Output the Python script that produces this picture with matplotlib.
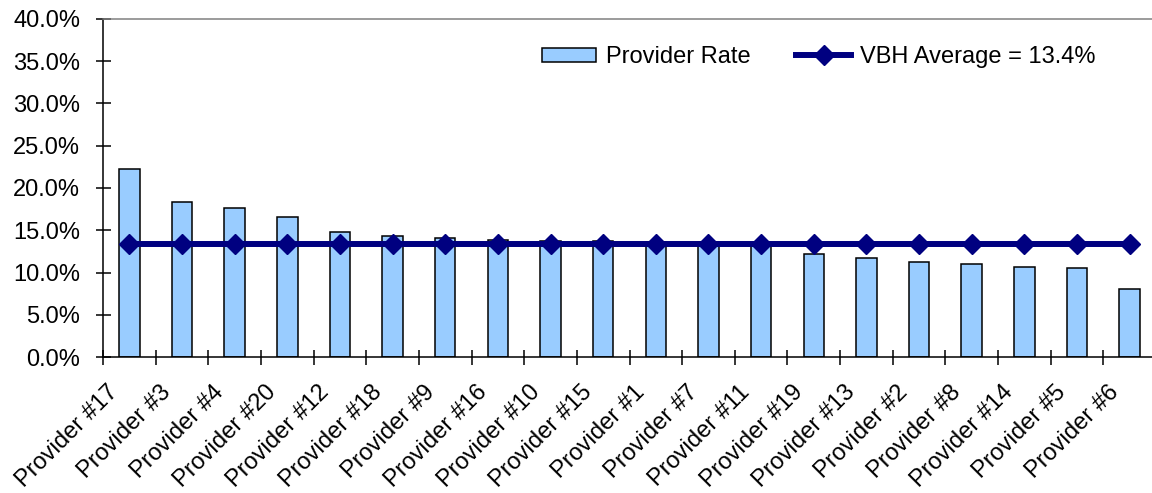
import numpy as np
import matplotlib
matplotlib.use("Agg")
import matplotlib.pyplot as plt
from matplotlib.ticker import MultipleLocator, FuncFormatter
from matplotlib.transforms import ScaledTranslation

plt.rcParams['font.family'] = ['Liberation Sans', 'DejaVu Sans']

providers = ["Provider #17", "Provider #3", "Provider #4", "Provider #20", "Provider #12",
             "Provider #18", "Provider #9", "Provider #16", "Provider #10", "Provider #15",
             "Provider #1", "Provider #7", "Provider #11", "Provider #19", "Provider #13",
             "Provider #2", "Provider #8", "Provider #14", "Provider #5", "Provider #6"]
provider_rate = [22.3, 18.3, 17.6, 16.6, 14.8, 14.3, 14.1, 13.8, 13.7, 13.7,
                 13.6, 13.6, 13.5, 12.2, 11.7, 11.2, 11.0, 10.7, 10.5, 8.1]
vbh_average = 13.4

W, H = 1152, 493
fig = plt.figure(figsize=(W / 100, H / 100), dpi=100)
ax = fig.add_axes([103 / W, 1 - 357 / H, (1156 - 103) / W, (357 - 19) / H])

x = np.arange(len(providers))
bars = ax.bar(x, provider_rate, width=0.39, color='#99CCFF', edgecolor='black',
              linewidth=1.1, zorder=2, label='Provider Rate')
line, = ax.plot(x, [vbh_average] * len(x), color='#000080', lw=4.3, marker='D',
                ms=10.5, zorder=3, label=f'VBH Average = {vbh_average}%')

ax.set_xlim(-0.5, len(x) - 0.5)
ax.set_ylim(0, 40)
ax.yaxis.set_major_locator(MultipleLocator(5))
ax.yaxis.set_major_formatter(FuncFormatter(lambda v, p: f'{v:.1f}%'))
ax.tick_params(axis='y', direction='inout', length=10.8, width=1.1, pad=11,
               labelsize=17, colors='black')

ax.set_xticks(x)
ax.set_xticklabels(providers, rotation=45, ha='right', va='baseline',
                   rotation_mode='anchor', fontsize=17)
ax.tick_params(axis='x', which='major', length=0, pad=26)
shift = ScaledTranslation(-10 / 100, 0, fig.dpi_scale_trans)
for lbl in ax.get_xticklabels():
    lbl.set_transform(lbl.get_transform() + shift)
ax.set_xticks(np.arange(-0.5, len(x), 1), minor=True)
ax.tick_params(axis='x', which='minor', direction='inout', length=10.8, width=1.1)

for side in ('left', 'bottom'):
    ax.spines[side].set_linewidth(1.1)
    ax.spines[side].set_color('black')
ax.spines['top'].set_color('#808080')
ax.spines['top'].set_linewidth(1.1)
ax.spines['right'].set_visible(False)

fig.legend(handles=[bars, line], loc='center left',
           bbox_to_anchor=(542 / W, 1 - 57 / H), ncol=2, frameon=False,
           fontsize=17, handlelength=2.3, handleheight=0.55, handletextpad=0.4,
           columnspacing=1.95, borderpad=0, borderaxespad=0)

fig.savefig('out.png', dpi=100)
